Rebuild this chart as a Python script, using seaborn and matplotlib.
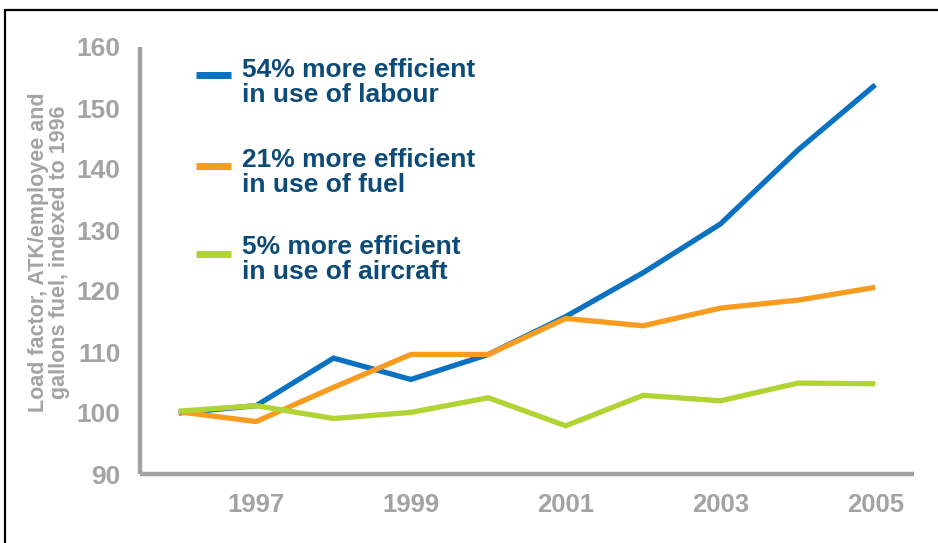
import matplotlib
matplotlib.use("Agg")
import matplotlib.pyplot as plt
from matplotlib.patches import Rectangle
from matplotlib.ticker import FixedLocator
import seaborn as sns
import pandas as pd

years = [1996, 1997, 1998, 1999, 2000, 2001, 2002, 2003, 2004, 2005]
labour = [100.0, 101.2, 109.0, 105.5, 109.6, 115.8, 123.0, 131.0, 143.1, 153.8]
fuel = [100.2, 98.6, 104.2, 109.6, 109.6, 115.5, 114.3, 117.2, 118.5, 120.6]
aircraft = [100.3, 101.2, 99.1, 100.1, 102.5, 97.9, 102.9, 102.0, 104.9, 104.8]

series_labels = [
    "54% more efficient\nin use of labour",
    "21% more efficient\nin use of fuel",
    "5% more efficient\nin use of aircraft",
]
series_colors = ["#0a72c0", "#f89c1f", "#b1d334"]
tick_years = [1997, 1999, 2001, 2003, 2005]
y_ticks = [90, 100, 110, 120, 130, 140, 150, 160]

grey = "#a3a3a3"
text_blue = "#0c4a78"

df = pd.DataFrame({
    "year": years * 3,
    "value": labour + fuel + aircraft,
    "series": [series_labels[0]] * len(years)
    + [series_labels[1]] * len(years)
    + [series_labels[2]] * len(years),
})

sns.set_style("white")
plt.rcParams["font.family"] = ["Liberation Sans", "DejaVu Sans"]

fig = plt.figure(figsize=(9.38, 5.43), dpi=100)
ax = fig.add_axes([140 / 938, 1 - 474 / 543, 774 / 938, 427 / 543])

sns.lineplot(
    data=df, x="year", y="value", hue="series",
    palette=dict(zip(series_labels, series_colors)),
    linewidth=3.8, legend=False, ax=ax,
)
for line in ax.lines:
    line.set_solid_joinstyle("miter")
    line.set_solid_capstyle("butt")

ax.set_xlim(1995.5, 2005.5)
ax.set_ylim(90, 160)
ax.set_xlabel("")
ax.set_ylabel("Load factor, ATK/employee and\ngallons fuel, indexed to 1996",
              color=grey, fontsize=15.5, fontweight="bold", linespacing=1.0)
ax.yaxis.set_label_coords(-0.09, 0.52)

for side in ["top", "right"]:
    ax.spines[side].set_visible(False)
for side in ["left", "bottom"]:
    ax.spines[side].set_color(grey)
    ax.spines[side].set_linewidth(3.2)
    ax.spines[side].set_capstyle("butt")

ax.set_yticks(y_ticks)
ax.set_xticks(tick_years)
ax.xaxis.set_minor_locator(FixedLocator([y + 0.5 for y in range(1995, 2006)]))
ax.tick_params(axis="y", which="major", length=7, width=3, color=grey,
               labelcolor=grey, labelsize=19, pad=7)
ax.tick_params(axis="x", which="major", length=0, labelcolor=grey,
               labelsize=18.5, pad=14)
ax.tick_params(axis="x", which="minor", length=7, width=3, color=grey)
for lab in ax.get_xticklabels() + ax.get_yticklabels():
    lab.set_fontweight("bold")

# legend keys and labels beside them
key_y = [0.934, 0.722, 0.516]
text_y = [0.917, 0.707, 0.503]
for label, color, ky, ty in zip(series_labels, series_colors, key_y, text_y):
    ax.plot([0.072, 0.118], [ky, ky], transform=ax.transAxes, color=color,
            linewidth=5, solid_capstyle="butt", clip_on=False)
    ax.text(0.132, ty, label, transform=ax.transAxes, color=text_blue,
            fontsize=19, fontweight="bold", va="center", ha="left",
            linespacing=1.05)

fig.patches.append(Rectangle((5 / 938, -0.1), 1.2, 1.1 - 10 / 543,
                             transform=fig.transFigure, fill=False,
                             edgecolor="black", linewidth=1.6))

fig.savefig("out.png", dpi=100)
